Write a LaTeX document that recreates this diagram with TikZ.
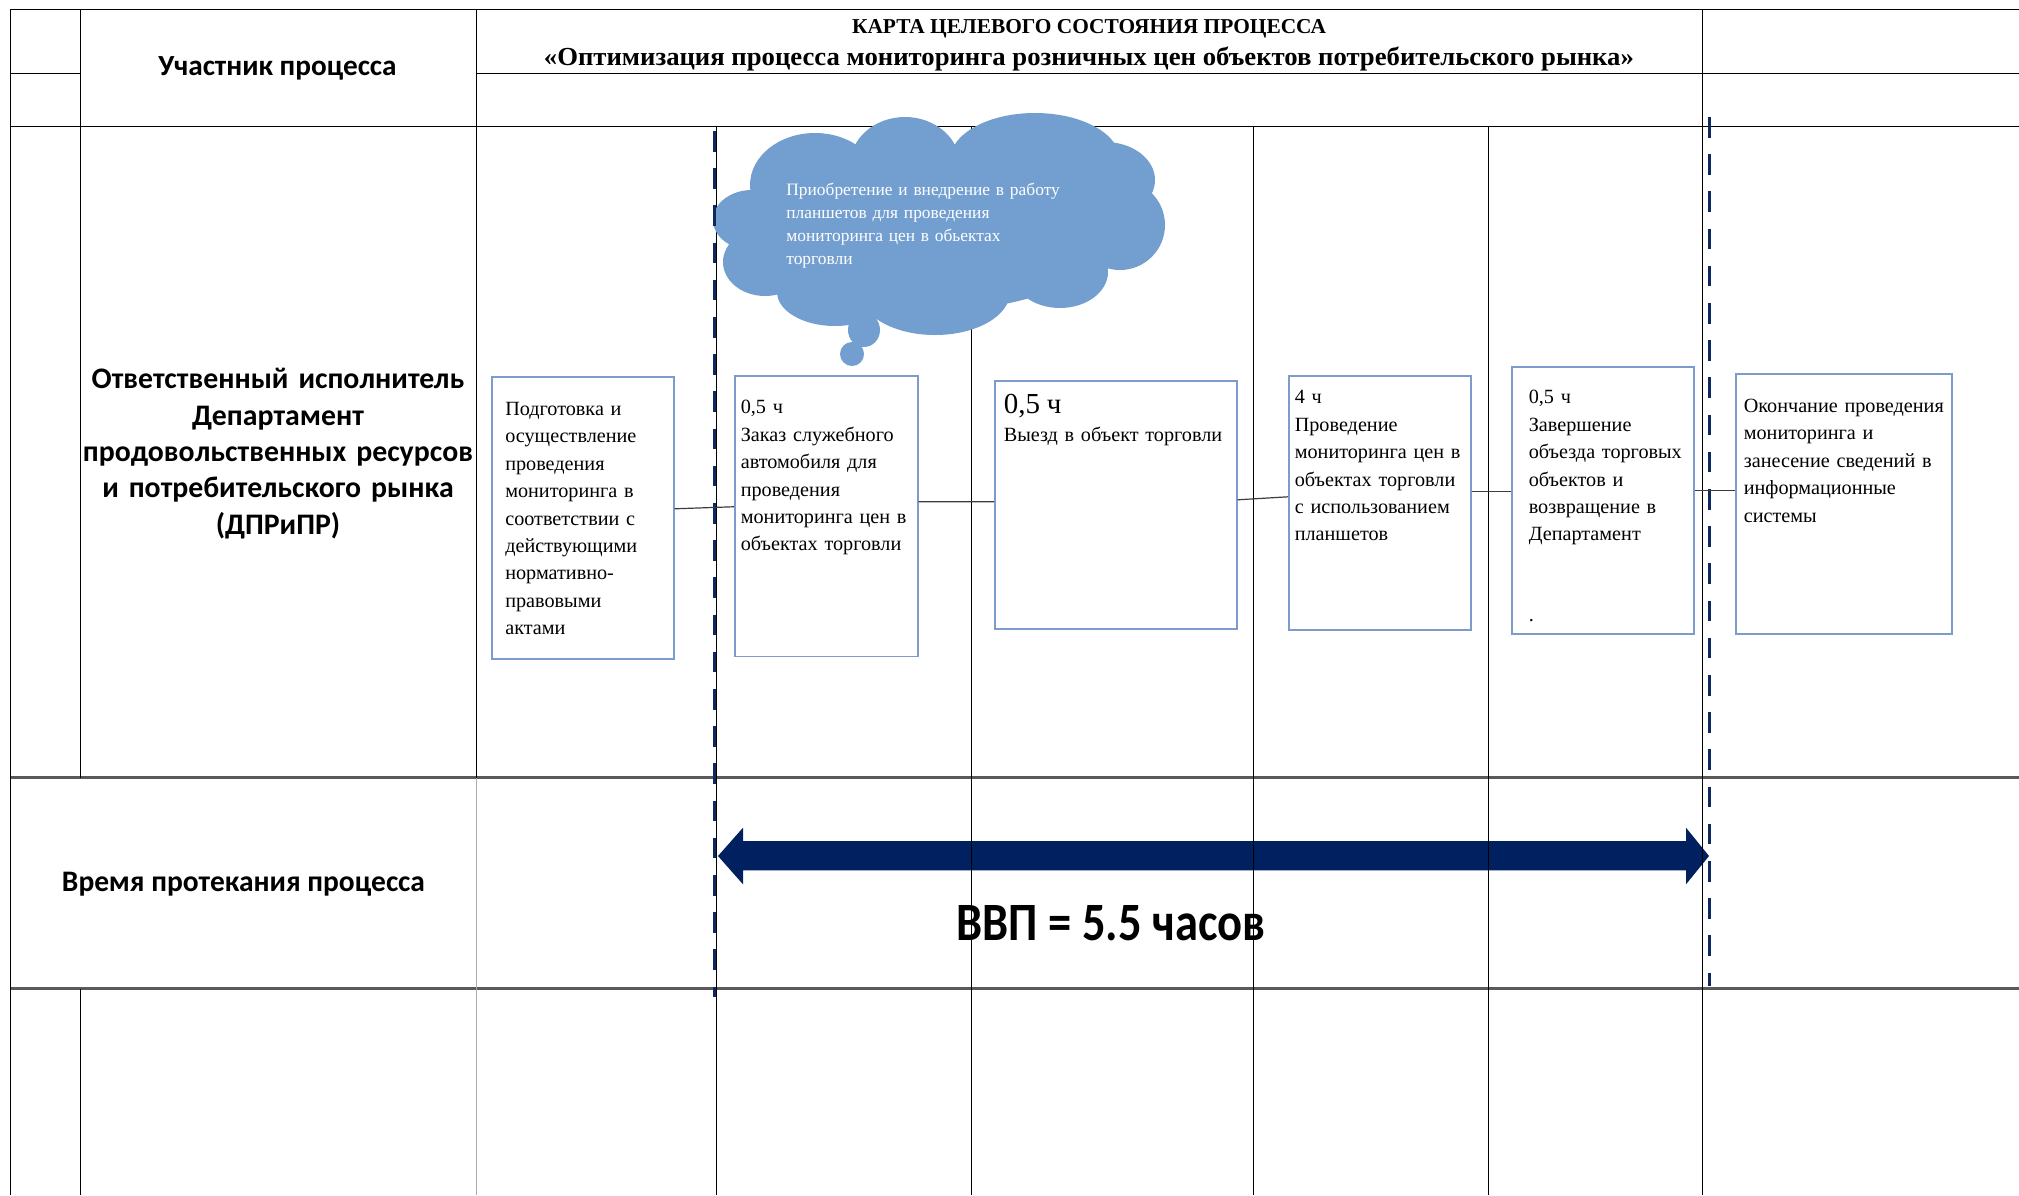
\documentclass[tikz,border=0pt]{standalone}
\usepackage{fontspec}
\setmainfont{Liberation Serif}
\newfontfamily\calfont{Carlito}
\usepackage{graphicx}
\definecolor{boxc}{RGB}{125,155,205}
\definecolor{navyc}{RGB}{0,32,96}
\definecolor{dashc}{RGB}{14,40,96}
\definecolor{cloudc}{RGB}{114,159,207}
\definecolor{gridg}{RGB}{90,90,90}
\definecolor{lightg}{RGB}{170,170,170}
\definecolor{connc}{RGB}{60,60,60}
\hfuzz=200pt
\begin{document}
\begin{tikzpicture}[x=0.5pt,y=-0.5pt,
  gline/.style={line width=0.5pt,black},
  hgray/.style={line width=1.1pt,gridg},
  stepbox/.style={draw=boxc,fill=white,line width=0.8pt,inner ysep=0pt,anchor=north west,align=left,font=\fontsize{10.1}{13.7}\selectfont},
  conn/.style={connc,line width=0.6pt},
  vdash/.style={dashc,line width=1.7pt,dash pattern=on 10.3pt off 8.3pt},
  lbl/.style={inner sep=0pt,anchor=base},
]
\useasboundingbox (0,0) rectangle (2019,1195);
\fill[white] (0,0) rectangle (2019,1195);

% big double arrow
\fill[navyc] (718,856) -- (743,827.7) -- (743,841) -- (1686,841) -- (1686,827.7) -- (1709,856)
  -- (1686,884.3) -- (1686,870.3) -- (743,870.3) -- (743,884.3) -- cycle;

% table grid
\draw[gline] (10,9) -- (2019,9);
\draw[gline] (10,73) -- (80,73);
\draw[gline] (476,73) -- (2019,73);
\draw[gline] (10,126) -- (2019,126);
\draw[hgray] (10,777.5) -- (2019,777.5);
\draw[hgray] (10,988.5) -- (2019,988.5);
\draw[gline] (10,9) -- (10,1195);
\draw[gline] (80,9) -- (80,777.5) (80,988.5) -- (80,1195);
\draw[gline] (476,9) -- (476,777.5);
\draw[gline,lightg] (476,777.5) -- (476,1195);
\foreach \x in {716,971,1253,1488} \draw[gline] (\x,126) -- (\x,1195);
\draw[gline] (1702,9) -- (1702,1195);

% cloud
\fill[cloudc]
  (752,220) ellipse[x radius=19.5pt,y radius=15pt]
  (765,262) ellipse[x radius=21pt,y radius=17pt]
  (835,292) ellipse[x radius=29pt,y radius=17pt]
  (935,292) ellipse[x radius=37.5pt,y radius=21.5pt]
  (1060,272) ellipse[x radius=24pt,y radius=18pt]
  (1120,225) ellipse[x radius=22.5pt,y radius=22.5pt]
  (1105,180) ellipse[x radius=25pt,y radius=19pt]
  (1035,160) ellipse[x radius=42.5pt,y radius=23.5pt]
  (905,165) ellipse[x radius=27.5pt,y radius=24pt]
  (815,185) ellipse[x radius=32.5pt,y radius=26pt]
  (940,230) ellipse[x radius=85pt,y radius=40pt]
  (864,330) ellipse[x radius=8pt,y radius=8.5pt]
  (852,354) ellipse[x radius=6pt,y radius=6pt];
\node[anchor=base west,inner sep=0pt,text width=150pt,align=left,text=white,font=\fontsize{8.7}{11.5}\selectfont] (cloud) at (786,195)
  {Приобретение и внедрение в работу\\планшетов для проведения\\мониторинга цен в обьектах\\торговли};

% dashed boundaries
\coordinate (dA1) at (714.5,131);
\coordinate (dA2) at (714.5,997);
\coordinate (dB1) at (1709.5,117);
\coordinate (dB2) at (1709.5,986);
\draw[vdash] (dA1) -- (dA2);
\draw[vdash,line width=1.9pt] (dB1) -- (dB2);

% process boxes
\node[stepbox,inner xsep=6.75pt,text width=77.5pt,text height=19.3pt,text depth=121.7pt] (b1) at (491,376)
  {\mbox{Подготовка и}\\\mbox{осуществление}\\\mbox{проведения}\\\mbox{мониторинга в}\\\mbox{соответствии с}\\\mbox{действующими}\\\mbox{нормативно-}\\\mbox{правовыми}\\\mbox{актами}};
\node[stepbox,inner xsep=3pt,text width=85.5pt,text height=19pt,text depth=121.35pt] (b2) at (734,375)
  {\mbox{0,5 ч}\\\mbox{Заказ служебного}\\\mbox{автомобиля для}\\\mbox{проведения}\\\mbox{мониторинга цен в}\\\mbox{объектах торговли}};
\node[stepbox,inner xsep=4.5pt,text width=112pt,text height=16.5pt,text depth=107.5pt] (b3) at (994,380)
  {{\fontsize{14.5}{17}\selectfont 0,5 ч\par}\fontsize{10.1}{18.5}\selectfont \mbox{Выезд в объект торговли}};
\node[stepbox,inner xsep=3pt,text width=85pt,text height=14pt,text depth=113pt] (b4) at (1288,375)
  {\mbox{4 ч}\\\mbox{Проведение}\\\mbox{мониторинга цен в}\\\mbox{объектах торговли}\\\mbox{с использованием}\\\mbox{планшетов}};
\node[stepbox,inner xsep=8.5pt,text width=74pt,text height=18.5pt,text depth=115pt] (b5) at (1511,366)
  {\mbox{0,5 ч}\\\mbox{Завершение}\\\mbox{объезда торговых}\\\mbox{объектов и}\\\mbox{возвращение в}\\\mbox{Департамент}\\[26.5pt].};
\node[stepbox,inner xsep=4pt,text width=100pt,text height=19.35pt,text depth=110.65pt] (b6) at (1735,373)
  {\mbox{Окончание проведения}\\\mbox{мониторинга и}\\\mbox{занесение сведений в}\\\mbox{информационные}\\\mbox{системы}};

% connectors
\draw[conn] ([yshift=4.5pt]b1.east) -- ([yshift=4.7pt]b2.west);
\draw[conn] ([yshift=7.2pt]b2.east) -- ([yshift=1.5pt]b3.west);
\draw[conn] ([yshift=2.5pt]b3.east) -- ([yshift=3pt]b4.west);
\draw[conn] ([yshift=5.5pt]b4.east) -- ([yshift=4.25pt]b5.west);
\draw[conn] ([yshift=4.75pt]b5.east) -- ([yshift=6.5pt]b6.west);

% texts
\node[lbl] (title1) at (1089,33.5) {\resizebox{237pt}{\height}{\bfseries\fontsize{10.6}{12}\selectfont КАРТА ЦЕЛЕВОГО СОСТОЯНИЯ ПРОЦЕССА}};
\node[lbl] (title2) at (1089,65) {\resizebox{545pt}{\height}{\bfseries\fontsize{13}{15}\selectfont «Оптимизация процесса мониторинга розничных цен объектов потребительского рынка»}};
\node[lbl] (part) at (277.5,75) {\resizebox{119pt}{\height}{\calfont\bfseries\fontsize{14.6}{17}\selectfont Участник процесса}};
\node[anchor=base,inner sep=0pt,text width=198pt,align=center,font=\calfont\bfseries\fontsize{14.9}{18.2}\selectfont] (resp) at (278,388.6)
  {Ответственный исполнитель\\Департамент\\продовольственных ресурсов\\и потребительского рынка\\(ДПРиПР)};
\node[lbl] (time) at (243.5,891.7) {\resizebox{181.5pt}{\height}{\calfont\bfseries\fontsize{14.9}{17}\selectfont Время протекания процесса}};
\node[lbl] (vvp) at (1111,940.7) {\resizebox{154.5pt}{\height}{\calfont\bfseries\fontsize{27}{30}\selectfont ВВП = 5.5 часов}};
\end{tikzpicture}
\end{document}
